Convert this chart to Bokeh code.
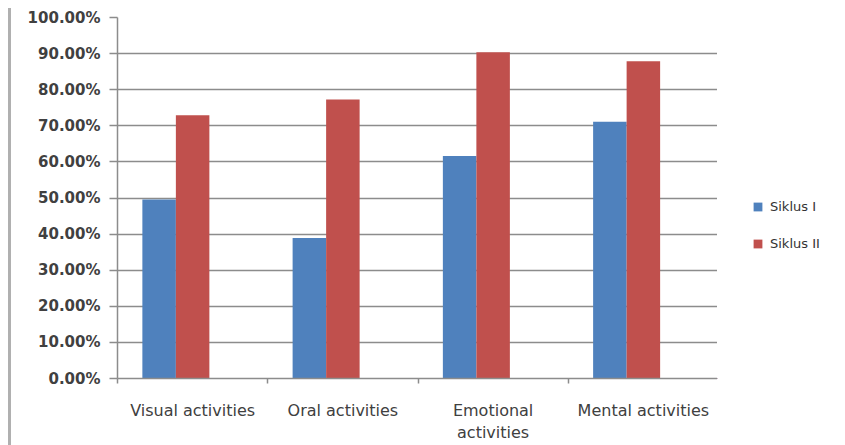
import numpy as np
from bokeh.plotting import figure
from bokeh.layouts import row
from bokeh.models import (ColumnDataSource, Range1d, FixedTicker, NumeralTickFormatter,
                          Legend, LegendItem)
from bokeh.embed import file_html
from bokeh.resources import INLINE

categories = ["Visual activities", "Oral activities", "Emotional\nactivities", "Mental activities"]
siklus_1 = [0.496, 0.389, 0.616, 0.711]
siklus_2 = [0.729, 0.773, 0.904, 0.879]
series_names = ["Siklus I", "Siklus II"]
y_ticks = [0.0, 0.1, 0.2, 0.3, 0.4, 0.5, 0.6, 0.7, 0.8, 0.9, 1.0]

BLUE = "#4F81BD"
RED = "#C0504D"
GRID = "#8c8c8c"
TEXT = "#404040"

n = len(categories)
centers = np.arange(n) + 0.5
bar_w = 0.223

src1 = ColumnDataSource(dict(x=centers - bar_w, top=siklus_1))
src2 = ColumnDataSource(dict(x=centers, top=siklus_2))

p = figure(width=709, height=437, output_backend="svg", toolbar_location=None,
           x_range=Range1d(0, n), y_range=Range1d(0, 1.0),
           min_border_left=106, min_border_right=2, min_border_top=9, min_border_bottom=66)
p.styles = {"border-left": "3px solid #b0b0b0", "margin-left": "8px", "margin-top": "8px"}
p.outline_line_color = None
p.background_fill_color = "white"

p.vbar(x="x", top="top", width=bar_w, bottom=0, source=src1, fill_color=BLUE, line_color=None)
p.vbar(x="x", top="top", width=bar_w, bottom=0, source=src2, fill_color=RED, line_color=None)

# y axis
p.yaxis.ticker = FixedTicker(ticks=y_ticks)
p.yaxis.formatter = NumeralTickFormatter(format="0.00%")
p.yaxis.axis_line_color = GRID
p.yaxis.axis_line_width = 1.5
p.yaxis.major_tick_line_color = GRID
p.yaxis.major_tick_line_width = 1.5
p.yaxis.major_tick_out = 8
p.yaxis.major_tick_in = 0
p.yaxis.minor_tick_line_color = None
p.yaxis.major_label_standoff = 9
p.yaxis.major_label_text_font = "DejaVu Sans"
p.yaxis.major_label_text_font_style = "bold"
p.yaxis.major_label_text_font_size = "15px"
p.yaxis.major_label_text_color = TEXT

# x axis
p.xaxis.ticker = FixedTicker(ticks=list(centers), minor_ticks=list(range(n + 1)))
p.xaxis.major_label_overrides = {float(c): lab for c, lab in zip(centers, categories)}
p.xaxis.axis_line_color = GRID
p.xaxis.axis_line_width = 1.5
p.xaxis.major_tick_line_color = None
p.xaxis.major_tick_out = 0
p.xaxis.major_tick_in = 0
p.xaxis.minor_tick_line_color = GRID
p.xaxis.minor_tick_line_width = 1.5
p.xaxis.minor_tick_out = 5
p.xaxis.minor_tick_in = 0
p.xaxis.major_label_standoff = 17
p.xaxis.major_label_text_font = "DejaVu Sans"
p.xaxis.major_label_text_font_size = "16px"
p.xaxis.major_label_text_color = TEXT

# grid
p.xgrid.grid_line_color = None
p.ygrid.ticker = FixedTicker(ticks=y_ticks)
p.ygrid.grid_line_color = GRID
p.ygrid.grid_line_width = 1.5

# legend panel (separate figure to the right of the plot area); its bars sit outside its view
lg = figure(width=120, height=437, output_backend="svg", toolbar_location=None,
            x_range=Range1d(10, 11), y_range=Range1d(2, 3),
            min_border_left=0, min_border_right=0, min_border_top=0, min_border_bottom=0)
lg.styles = {"margin-top": "8px"}
lg.axis.visible = False
lg.grid.visible = False
lg.outline_line_color = None
e1 = lg.vbar(x="x", top="top", width=bar_w, bottom=0, source=src1, fill_color=BLUE, line_color=None)
e2 = lg.vbar(x="x", top="top", width=bar_w, bottom=0, source=src2, fill_color=RED, line_color=None)

legend = Legend(items=[LegendItem(label=series_names[0], renderers=[e1]),
                       LegendItem(label=series_names[1], renderers=[e2])],
                location=(35, 127), orientation="vertical",
                glyph_width=11, glyph_height=11, label_height=15, label_width=40,
                label_standoff=7, spacing=22, padding=0, margin=0,
                border_line_color=None, background_fill_alpha=0,
                label_text_font="DejaVu Sans", label_text_font_size="13px",
                label_text_color="#333333")
lg.add_layout(legend, "center")

layout = row(p, lg)
open("out.html", "w").write(file_html(layout, INLINE))
